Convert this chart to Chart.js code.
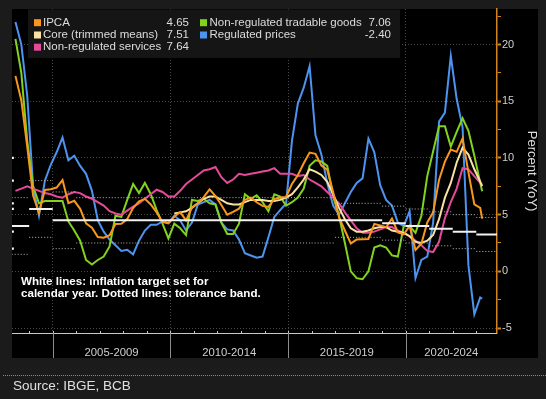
<!DOCTYPE html>
<html>
<head>
<meta charset="utf-8">
<script src="https://cdn.jsdelivr.net/npm/chart.js@4.4.0/dist/chart.umd.min.js"></script>
<style>
  html, body { margin: 0; padding: 0; background: #1b1b1b; }
  #wrap { position: relative; width: 546px; height: 399px; }
</style>
</head>
<body>
<div id="wrap"><canvas id="myChart"></canvas></div>
<script>
//------------------------------- data -------------------------------//
// quarterly readings (end of month), last point is the latest month
var months = [
  '2003-05','2003-08','2003-11',
  '2004-02','2004-05','2004-08','2004-11',
  '2005-02','2005-05','2005-08','2005-11',
  '2006-02','2006-05','2006-08','2006-11',
  '2007-02','2007-05','2007-08','2007-11',
  '2008-02','2008-05','2008-08','2008-11',
  '2009-02','2009-05','2009-08','2009-11',
  '2010-02','2010-05','2010-08','2010-11',
  '2011-02','2011-05','2011-08','2011-11',
  '2012-02','2012-05','2012-08','2012-11',
  '2013-02','2013-05','2013-08','2013-11',
  '2014-02','2014-05','2014-08','2014-11',
  '2015-02','2015-05','2015-08','2015-11',
  '2016-02','2016-05','2016-08','2016-11',
  '2017-02','2017-05','2017-08','2017-11',
  '2018-02','2018-05','2018-08','2018-11',
  '2019-02','2019-05','2019-08','2019-11',
  '2020-02','2020-05','2020-08','2020-11',
  '2021-02','2021-05','2021-08','2021-11',
  '2022-02','2022-05','2022-08','2022-11',
  '2023-02','2023-03'
];

var ipca = [
  17.24, 15.07, 11.02,
  6.69, 5.15, 7.18, 7.24,
  7.39, 8.05, 6.02, 6.22,
  5.51, 4.23, 3.84, 3.02,
  2.96, 3.18, 4.18, 4.19,
  4.61, 5.58, 6.17, 6.39,
  5.90, 5.20, 4.36, 4.22,
  4.83, 5.22, 4.49, 5.63,
  6.01, 6.55, 7.23, 6.64,
  5.85, 4.99, 5.24, 5.53,
  6.31, 6.50, 6.09, 5.77,
  5.68, 6.37, 6.51, 6.56,
  7.70, 8.47, 9.53, 10.48,
  10.36, 9.32, 8.97, 6.99,
  4.76, 3.60, 2.46, 2.80,
  2.84, 2.86, 4.19, 4.05,
  3.89, 4.66, 3.43, 3.27,
  4.01, 1.88, 2.44, 4.31,
  5.20, 8.06, 9.68, 10.74,
  10.54, 11.73, 8.73, 5.90,
  5.60, 4.65
];

var core = [
  null, null, null,
  null, null, null, null,
  null, null, null, null,
  null, null, null, null,
  null, null, null, null,
  null, null, null, null,
  null, null, null, null,
  5.1, 5.2, 5.3, 5.6,
  6.0, 6.4, 6.6, 6.6,
  6.3, 6.0, 5.9, 5.9,
  6.1, 6.3, 6.3, 6.3,
  6.2, 6.2, 6.3, 6.5,
  6.8, 7.4, 8.1, 9.0,
  8.8, 8.5, 7.9, 6.8,
  5.6, 4.6, 3.8, 3.5,
  3.5, 3.6, 3.8, 3.9,
  3.9, 3.6, 3.5, 3.4,
  3.1, 2.6, 2.5, 2.7,
  3.2, 4.6, 6.5, 7.8,
  9.6, 10.9, 10.3, 9.0,
  7.9, 7.51
];

var services = [
  7.1, 7.3, 7.5,
  7.3, 7.1, 6.9, 6.8,
  6.6, 6.5, 6.8, 7.0,
  6.9, 6.6, 6.4, 6.1,
  5.8, 5.3, 5.1, 5.0,
  5.35, 5.7, 6.0, 6.4,
  6.8, 7.2, 7.0, 6.6,
  6.6, 7.1, 7.7, 8.1,
  8.5, 8.9, 9.0, 9.2,
  8.3, 7.8, 8.1, 8.6,
  8.5, 8.6, 8.7, 8.8,
  8.9, 9.1, 8.6, 8.6,
  8.6, 8.4, 8.5, 8.1,
  7.8, 7.5, 7.0, 6.5,
  6.0, 5.2, 4.5, 3.8,
  3.4, 3.4, 3.5, 3.7,
  3.9, 3.9, 3.6, 3.4,
  3.1, 2.7, 2.3, 1.8,
  1.7, 2.6, 4.7, 6.1,
  7.3, 9.1, 9.0, 8.4,
  7.8, 7.64
];

var tradables = [
  20.5, 17.5, 11.5,
  7.5, 6.0, 6.2, 6.2,
  6.2, 6.2, 4.4, 3.6,
  2.7, 1.0, 0.6, 1.0,
  1.3, 2.2, 4.9, 4.8,
  6.3, 7.7, 6.9, 7.8,
  6.8, 5.4, 4.2, 2.9,
  4.2, 3.8, 3.2, 6.3,
  6.2, 6.4, 6.0, 5.9,
  4.3, 3.3, 3.3, 4.2,
  6.8, 6.4, 6.7, 6.1,
  5.3, 6.8, 6.6, 5.8,
  6.1, 6.5, 7.3, 9.3,
  9.8, 9.7, 9.3, 6.6,
  4.9, 2.5, 0.0, -0.6,
  -0.7, 0.0, 2.1, 2.3,
  2.1, 1.4, 1.3, 4.0,
  4.0, 3.4, 4.9, 8.4,
  10.6, 12.8, 12.8, 11.0,
  12.3, 13.5, 12.4, 10.2,
  7.8, 7.06
];

var regulated = [
  22.0, 20.0, 15.5,
  7.5, 4.9, 8.0, 9.4,
  10.5, 11.8, 9.8, 10.2,
  9.3, 8.6, 7.1, 4.5,
  3.5, 2.8, 2.3, 1.8,
  1.9, 1.5, 2.7, 3.6,
  4.1, 4.1, 4.4, 4.3,
  4.9, 4.5, 3.6, 4.3,
  5.9, 6.1, 6.3, 5.9,
  4.3, 3.7, 3.6, 2.8,
  1.6, 1.4, 1.2, 1.3,
  3.0, 4.8, 5.4, 6.0,
  11.5, 14.8, 16.2, 18.1,
  12.0, 10.3, 7.8, 5.8,
  5.0, 6.0, 7.0, 7.8,
  8.2, 11.7, 10.5, 7.6,
  6.3, 5.8, 4.3, 4.0,
  5.3, -0.6, 1.0, 1.3,
  4.3, 13.2, 14.0, 19.0,
  15.2, 12.7, 0.5, -3.8,
  -2.3, -2.4
];

// inflation target per calendar year and its tolerance band (+/-)
var targetYears = [2003, 2004, 2005, 2006, 2007, 2008, 2009, 2010, 2011, 2012, 2013,
                   2014, 2015, 2016, 2017, 2018, 2019, 2020, 2021, 2022, 2023];
var targets     = [4.0, 5.5, 4.5, 4.5, 4.5, 4.5, 4.5, 4.5, 4.5, 4.5, 4.5,
                   4.5, 4.5, 4.5, 4.5, 4.5, 4.25, 4.0, 3.75, 3.5, 3.25];
var tolerance   = [2.5, 2.5, 2.5, 2.0, 2.0, 2.0, 2.0, 2.0, 2.0, 2.0, 2.0,
                   2.0, 2.0, 2.0, 1.5, 1.5, 1.5, 1.5, 1.5, 1.5, 1.5];

// small white marks at the left edge
var edgeMarks = [10, 8, 6, 5.5, 3.5, 2];

var seriesNames = ['IPCA', 'Core (trimmed means)', 'Non-regulated services',
                   'Non-regulated tradable goods', 'Regulated prices'];
var seriesColors = ['#f7981d', '#fbe2a4', '#e54a9a', '#82d21e', '#4d94f0'];

var bandStarts = [2005, 2010, 2015, 2020];
var bandLabels = ['2005-2009', '2010-2014', '2015-2019', '2020-2024'];
var yTicks = [-5, -2.5, 0, 2.5, 5, 7.5, 10, 12.5, 15, 17.5, 20, 22.5];

var xMin = 2003.27, xMax = 2023.88;
var yMin = -5.44, yMax = 23.14;

//------------------------------- helpers -------------------------------//
function toYear(s) {
  var p = s.split('-');
  return +p[0] + (+p[1]) / 12;
}

function series(vals) {
  return months.map(function (m, i) { return {x: toYear(m), y: vals[i]}; });
}

// separate horizontal segment for each calendar year
function stepLine(vals) {
  var pts = [];
  for (var i = 0; i < targetYears.length; i++) {
    pts.push({x: targetYears[i], y: vals[i]});
    pts.push({x: targetYears[i] + 1, y: vals[i]});
    pts.push({x: targetYears[i] + 1, y: null});
  }
  return pts;
}

var upperBand = targets.map(function (t, i) { return t + tolerance[i]; });
var lowerBand = targets.map(function (t, i) { return t - tolerance[i]; });

var allSeries = [ipca, core, services, tradables, regulated];

function lineSet(i) {
  return {
    label: seriesNames[i],
    data: series(allSeries[i]),
    borderColor: seriesColors[i],
    borderWidth: 2,
    pointRadius: 0,
    tension: 0,
    order: 3 + i
  };
}

//------------------------------- plugins -------------------------------//
var panel = {left: 12, top: 9, right: 538, bottom: 358};

var framePlugin = {
  id: 'frame',
  beforeDraw: function (chart) {
    var ctx = chart.ctx;
    ctx.save();
    ctx.fillStyle = '#1b1b1b';
    ctx.fillRect(0, 0, chart.width, chart.height);
    ctx.fillStyle = '#000000';
    ctx.fillRect(panel.left, panel.top, panel.right - panel.left, panel.bottom - panel.top);
    ctx.restore();
  },
  afterDraw: function (chart) {
    var ctx = chart.ctx, area = chart.chartArea, xs = chart.scales.x;
    ctx.save();

    // bottom axis
    ctx.strokeStyle = '#c8c8c8';
    ctx.lineWidth = 1;
    ctx.beginPath();
    ctx.moveTo(area.left, area.bottom + 0.5);
    ctx.lineTo(area.right, area.bottom + 0.5);
    for (var yr = Math.ceil(xMin); yr <= Math.floor(xMax); yr++) {
      var px = Math.round(xs.getPixelForValue(yr)) + 0.5;
      ctx.moveTo(px, area.bottom - 2);
      ctx.lineTo(px, area.bottom + 1);
    }
    ctx.stroke();

    ctx.strokeStyle = '#8c8c8c';
    ctx.beginPath();
    bandStarts.forEach(function (b) {
      var px = Math.round(xs.getPixelForValue(b)) + 0.5;
      ctx.moveTo(px, area.bottom);
      ctx.lineTo(px, panel.bottom);
    });
    ctx.stroke();

    ctx.fillStyle = '#cfcfcf';
    ctx.font = '11.3px "Liberation Sans"';
    ctx.textAlign = 'center';
    ctx.textBaseline = 'middle';
    bandStarts.forEach(function (b, i) {
      var end = i < bandStarts.length - 1 ? bandStarts[i + 1] : xMax;
      var cx = (xs.getPixelForValue(b) + xs.getPixelForValue(end)) / 2;
      ctx.fillText(bandLabels[i], cx, 352.5);
    });

    // legend box
    ctx.fillStyle = '#151515';
    ctx.fillRect(28, 9.5, 372, 48.5);
    ctx.font = '11.5px "Liberation Sans"';
    ctx.textBaseline = 'middle';
    var rows = [22.7, 35, 47.2];
    var cols = [
      {sq: 34, text: 43, val: 189, items: [0, 1, 2]},
      {sq: 200, text: 209.5, val: 391, items: [3, 4]}
    ];
    cols.forEach(function (c) {
      c.items.forEach(function (k, r) {
        var vals = allSeries[k];
        ctx.fillStyle = seriesColors[k];
        ctx.fillRect(c.sq, rows[r] - 3.5, 7, 7);
        ctx.fillStyle = '#dcdcdc';
        ctx.textAlign = 'left';
        ctx.fillText(seriesNames[k], c.text, rows[r]);
        ctx.textAlign = 'right';
        ctx.fillText(vals[vals.length - 1].toFixed(2), c.val, rows[r]);
      });
    });

    // note
    ctx.fillStyle = '#ffffff';
    ctx.font = 'bold 11.6px "Liberation Sans"';
    ctx.textAlign = 'left';
    ctx.fillText('White lines: inflation target set for', 21, 282);
    ctx.fillText('calendar year. Dotted lines: tolerance band.', 21, 294);

    // footer
    ctx.strokeStyle = '#8a8a8a';
    ctx.setLineDash([1, 1]);
    ctx.beginPath();
    ctx.moveTo(3, 375.5);
    ctx.lineTo(chart.width, 375.5);
    ctx.stroke();
    ctx.setLineDash([]);
    ctx.fillStyle = '#e0e0e0';
    ctx.font = '13.5px "Liberation Sans"';
    ctx.fillText('Source: IBGE, BCB', 13, 386);

    ctx.restore();
  }
};

//------------------------------- chart -------------------------------//
var datasets = [
  {
    label: 'target', data: stepLine(targets), borderColor: '#f2f2f2',
    borderWidth: 2, pointRadius: 0, order: 0
  },
  {
    label: 'upper', data: stepLine(upperBand), borderColor: '#b8b8b8',
    borderWidth: 1, borderDash: [1, 2], pointRadius: 0, order: 1
  },
  {
    label: 'lower', data: stepLine(lowerBand), borderColor: '#b8b8b8',
    borderWidth: 1, borderDash: [1, 2], pointRadius: 0, order: 1
  },
  {
    label: 'marks', data: edgeMarks.map(function (v) { return {x: xMin + 0.03, y: v}; }),
    showLine: false, pointStyle: 'rect', pointRadius: 1.6, pointBorderWidth: 0,
    pointBackgroundColor: '#ffffff', order: 0
  }
];
for (var i = 0; i < allSeries.length; i++) datasets.push(lineSet(i));

new Chart('myChart', {
  type: 'line',
  data: {datasets: datasets},
  plugins: [framePlugin],
  options: {
    responsive: true,
    maintainAspectRatio: false,
    animation: false,
    devicePixelRatio: 1,
    layout: {padding: {left: 12, top: 9, right: 0, bottom: 66}},
    plugins: {legend: {display: false}, tooltip: {enabled: false}},
    scales: {
      x: {
        type: 'linear', min: xMin, max: xMax,
        afterBuildTicks: function (s) { s.ticks = bandStarts.map(function (v) { return {value: v}; }); },
        afterFit: function (s) { s.height = 0; },
        ticks: {display: false},
        grid: {color: '#4a4a4a', drawTicks: false, lineWidth: 1},
        border: {display: false, dash: [1, 2]}
      },
      y: {
        position: 'right', min: yMin, max: yMax,
        afterBuildTicks: function (s) { s.ticks = yTicks.map(function (v) { return {value: v}; }); },
        afterFit: function (s) { s.width = 49; },
        ticks: {
          color: '#cfcfcf', padding: 1,
          font: {family: 'Liberation Sans', size: 11},
          callback: function (v) { return v % 5 === 0 ? String(v) : ''; }
        },
        grid: {
          color: function (c) { return c.tick && c.tick.value % 5 === 0 ? '#4a4a4a' : 'rgba(0,0,0,0)'; },
          tickColor: '#d4841c',
          tickWidth: function (c) { return c.tick && c.tick.value % 5 === 0 ? 2 : 1; },
          tickLength: 4,
          tickBorderDash: []
        },
        border: {display: true, color: '#d4841c', width: 1.5, dash: [1, 2]},
        title: {
          display: true, text: 'Percent (YoY)', color: '#dcdcdc',
          font: {family: 'Liberation Sans', size: 13},
          padding: {top: 7, bottom: 0}
        }
      }
    }
  }
});
</script>
</body>
</html>
